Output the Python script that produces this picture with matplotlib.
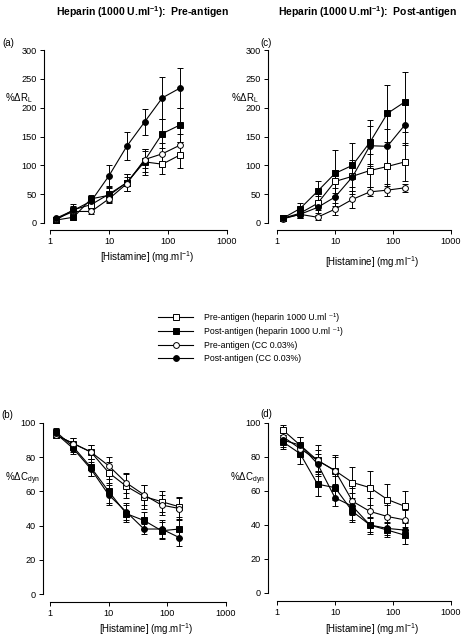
import matplotlib
matplotlib.use("Agg")
import matplotlib.pyplot as plt
from matplotlib.lines import Line2D

plt.rcParams['font.family'] = ['Liberation Sans', 'DejaVu Sans']
plt.rcParams['mathtext.fontset'] = 'custom'
plt.rcParams['mathtext.rm'] = 'Liberation Sans'
plt.rcParams['mathtext.it'] = 'Liberation Sans:italic'
plt.rcParams['mathtext.bf'] = 'Liberation Sans:bold'
plt.rcParams['mathtext.default'] = 'regular'

conc = [1.25, 2.5, 5, 10, 20, 40, 80, 160]

# Panel (a): %dRL, pre-antigen heparin
a_pre_hep = [5, 23, 32, 50, 70, 106, 102, 118]
a_pre_hep_err = [3, 10, 6, 12, 15, 23, 17, 22]
a_post_hep = [5, 10, 42, 48, 70, 108, 155, 170]
a_post_hep_err = [3, 4, 6, 12, 15, 20, 25, 30]
a_pre_cc = [7, 20, 20, 42, 68, 110, 120, 135]
a_pre_cc_err = [3, 5, 4, 8, 12, 15, 18, 20]
a_post_cc = [8, 22, 38, 82, 133, 175, 217, 234]
a_post_cc_err = [3, 8, 8, 18, 24, 23, 36, 34]

# Panel (c): %dRL, post-antigen heparin
c_pre_hep = [8, 17, 34, 72, 81, 91, 98, 106]
c_pre_hep_err = [3, 8, 12, 20, 25, 28, 33, 33]
c_post_hep = [8, 25, 55, 86, 100, 140, 190, 210]
c_post_hep_err = [3, 10, 18, 40, 38, 38, 50, 52]
c_pre_cc = [7, 15, 10, 24, 41, 54, 57, 61]
c_pre_cc_err = [2, 5, 4, 10, 15, 8, 10, 7]
c_post_cc = [8, 15, 27, 45, 80, 134, 133, 170]
c_post_cc_err = [3, 6, 10, 15, 30, 35, 30, 35]

# Panel (b): %dCdyn, pre-antigen heparin
b_pre_hep = [93, 88, 83, 71, 63, 57, 54, 51]
b_pre_hep_err = [2, 3, 4, 6, 7, 7, 6, 6]
b_post_hep = [95, 86, 74, 60, 47, 43, 37, 38]
b_post_hep_err = [2, 3, 5, 7, 5, 5, 5, 5]
b_pre_cc = [93, 88, 83, 75, 65, 58, 52, 50]
b_pre_cc_err = [2, 3, 4, 5, 6, 6, 6, 6]
b_post_cc = [94, 85, 73, 58, 48, 38, 38, 33]
b_post_cc_err = [2, 3, 4, 6, 5, 3, 5, 5]

# Panel (d): %dCdyn, post-antigen heparin
d_pre_hep = [96, 87, 78, 72, 65, 62, 55, 51]
d_pre_hep_err = [3, 5, 9, 9, 9, 10, 9, 9]
d_post_hep = [89, 82, 64, 62, 48, 40, 37, 34]
d_post_hep_err = [4, 6, 7, 7, 6, 5, 4, 5]
d_pre_cc = [92, 85, 78, 72, 54, 48, 45, 43]
d_pre_cc_err = [3, 4, 6, 8, 8, 8, 7, 6]
d_post_cc = [90, 87, 76, 56, 51, 40, 38, 37]
d_post_cc_err = [4, 5, 6, 5, 8, 4, 4, 4]

labels = ["Pre-antigen (heparin 1000 U.ml \u207b\u00b9)",
          "Post-antigen (heparin 1000 U.ml \u207b\u00b9)",
          "Pre-antigen (CC 0.03%)",
          "Post-antigen (CC 0.03%)"]
styles = [dict(marker='s', mfc='white'), dict(marker='s', mfc='black'),
          dict(marker='o', mfc='white'), dict(marker='o', mfc='black')]

W, H = 461, 640
fig = plt.figure(figsize=(W / 100, H / 100), dpi=100)
XLAB = "[Histamine] (mg.ml$^{-1}$)"


def add_panel(x0, x1, ytop, ybot, yoff, xoff, ylim, yticks, series, letter, ylabel,
              lblpos, ylblpos, xlblpos):
    ax = fig.add_axes([x0 / W, 1 - ybot / H, (x1 - x0) / W, (ybot - ytop) / H])
    ax.set_xscale('log')
    ax.set_xlim(1, 1000)
    ax.set_ylim(*ylim)
    for (vals, errs), st in zip(series, styles):
        ax.errorbar(conc, vals, yerr=errs, color='black', lw=0.8, elinewidth=0.7,
                    capsize=2.2, capthick=0.7, marker=st['marker'], mfc=st['mfc'],
                    mec='black', mew=0.7, ms=4.2, clip_on=False, zorder=3)
    ax.spines['top'].set_visible(False)
    ax.spines['right'].set_visible(False)
    ax.spines['left'].set_position(('outward', yoff * 0.72))
    ax.spines['bottom'].set_position(('outward', xoff * 0.72))
    ax.spines['left'].set_linewidth(0.8)
    ax.spines['bottom'].set_linewidth(0.8)
    ax.set_xticks([1, 10, 100, 1000])
    ax.set_xticklabels(['1', '10', '100', '1000'])
    ax.xaxis.set_minor_locator(matplotlib.ticker.NullLocator())
    ax.set_yticks(yticks)
    ax.tick_params(direction='out', length=3, width=0.7, labelsize=6.6, pad=2)
    fig.text(xlblpos[0] / W, 1 - xlblpos[1] / H, XLAB, fontsize=7, ha='center', va='center')
    fig.text(lblpos[0] / W, 1 - lblpos[1] / H, letter, fontsize=7, ha='left', va='center')
    fig.text(ylblpos[0] / W, 1 - ylblpos[1] / H, ylabel, fontsize=7, ha='left', va='center')
    return ax


add_panel(50, 227, 50, 223, 6, 7, (0, 300), [0, 50, 100, 150, 200, 250, 300],
          [(a_pre_hep, a_pre_hep_err), (a_post_hep, a_post_hep_err),
           (a_pre_cc, a_pre_cc_err), (a_post_cc, a_post_cc_err)],
          '(a)', r'%$\Delta$R$_{L}$', (2, 43), (5, 98), (147, 257))
add_panel(277, 451, 50, 223, 9, 7, (0, 300), [0, 50, 100, 150, 200, 250, 300],
          [(c_pre_hep, c_pre_hep_err), (c_post_hep, c_post_hep_err),
           (c_pre_cc, c_pre_cc_err), (c_post_cc, c_post_cc_err)],
          '(c)', r'%$\Delta$R$_{L}$', (260, 43), (231, 98), (372, 262))
add_panel(50, 226, 423, 594, 7, 8, (0, 100), [0, 20, 40, 60, 80, 100],
          [(b_pre_hep, b_pre_hep_err), (b_post_hep, b_post_hep_err),
           (b_pre_cc, b_pre_cc_err), (b_post_cc, b_post_cc_err)],
          '(b)', r'%$\Delta$C$_{dyn}$', (1, 415), (5, 479), (146, 629))
add_panel(277, 451, 423, 593, 9, 8, (0, 100), [0, 20, 40, 60, 80, 100],
          [(d_pre_hep, d_pre_hep_err), (d_post_hep, d_post_hep_err),
           (d_pre_cc, d_pre_cc_err), (d_post_cc, d_post_cc_err)],
          '(d)', r'%$\Delta$C$_{dyn}$', (260, 414), (230, 479), (372, 629))

fig.text(143 / W, 1 - 12 / H, "Heparin (1000 U.ml$\\mathbf{^{-1}}$):  Pre-antigen",
         fontsize=7.5, fontweight='bold', ha='center', va='center')
fig.text(368 / W, 1 - 12 / H, "Heparin (1000 U.ml$\\mathbf{^{-1}}$):  Post-antigen",
         fontsize=7.5, fontweight='bold', ha='center', va='center')

handles = [Line2D([], [], color='black', lw=0.8, marker=st['marker'], mfc=st['mfc'],
                  mec='black', mew=0.7, ms=4.2) for st in styles]
fig.legend(handles, labels, loc='upper left', bbox_to_anchor=(158 / W, 1 - 313 / H),
           frameon=False, fontsize=6.3, handlelength=4.0, handletextpad=1.2,
           labelspacing=0.55, borderaxespad=0, borderpad=0)

fig.savefig('out.png', dpi=100)
